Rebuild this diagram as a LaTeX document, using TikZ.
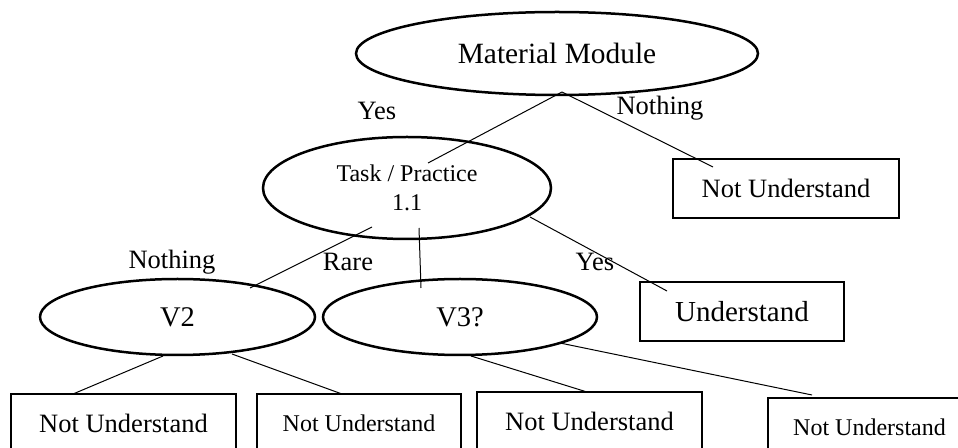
\documentclass[tikz,border=0pt]{standalone}
\usepackage{fontspec}
\setmainfont{Liberation Serif}
\usetikzlibrary{shapes.geometric, positioning, calc}

\begin{document}
\begin{tikzpicture}[
      x=0.5pt, y=-0.5pt,
      font=\fontsize{13.25}{15}\selectfont,
      ovalbox/.style={
          draw,
          ellipse,
          line width=1.25pt,
          inner sep=0pt,
          align=center
      },
      answerbox/.style={
          draw,
          rectangle,
          line width=1.25pt,
          minimum width=112.5pt,
          minimum height=29.5pt,
          inner sep=0pt
      },
      link/.style={line width=0.5pt},
      choice/.style={inner sep=0pt}
  ]
      \useasboundingbox (0,0) rectangle (958,448);

      % --- Questions ---
      \node[ovalbox, minimum width=201pt, minimum height=41.5pt, font=\fontsize{14.7}{16}\selectfont] (module) at (557,53.5) {Material Module};
      \node[ovalbox, minimum width=144pt, minimum height=51pt, font=\fontsize{12}{14.5}\selectfont] (task) at (407,188) {Task / Practice\\1.1};
      \node[ovalbox, minimum width=137.5pt, minimum height=38pt, font=\fontsize{14.25}{16}\selectfont] (vtwo) at (177.5,317) {V2};
      \node[ovalbox, minimum width=137pt, minimum height=38pt, font=\fontsize{14.25}{16}\selectfont] (vthree) at (460,317) {V3?};

      % --- Results ---
      \node[answerbox, minimum width=113pt] (notund) at (786,188.5) {Not Understand};
      \node[answerbox, minimum width=102pt, font=\fontsize{14.5}{16}\selectfont] (und) at (742,311.5) {Understand};
      \node[answerbox] (notunda) at (123.5,423.5) {Not Understand};
      \node[answerbox, minimum width=102pt, font=\fontsize{12}{14}\selectfont] (notundb) at (359,423.5) {Not Understand};
      \node[answerbox] (notundc) at (589.5,421.5) {Not Understand};
      \node[answerbox, minimum width=101.5pt, font=\fontsize{12}{14}\selectfont] (notundd) at (869.5,427.5) {Not Understand};

      % --- Answers ---
      \node[choice] (yesa) at (377,111) {Yes};
      \node[choice] (nothinga) at (660,108) {Nothing};
      \node[choice] (nothingb) at (172,262) {Nothing};
      \node[choice] (rare) at (348,262) {Rare};
      \node[choice] (yesb) at (595,262) {Yes};

      % --- Connections ---
      \draw[link] ($(module.center)+(5,38.5)$) -- ($(task.center)+(21,-25)$);
      \draw[link] ($(module.center)+(5,38.5)$) -- ($(notund.center)+(-73,-21.5)$);

      \draw[link] ($(task.center)+(-35,39)$) -- ($(vtwo.center)+(72.5,-29)$);
      \draw[link] ($(task.center)+(12,40)$) -- ($(vthree.center)+(-39,-29)$);
      \draw[link] ($(task.center)+(123,29)$) -- ($(und.center)+(-75,-20.5)$);

      \draw[link] ($(vtwo.center)+(-14.5,39)$) -- ($(notunda.center)+(-50.5,-29.5)$);
      \draw[link] ($(vtwo.center)+(54.5,37)$) -- ($(notundb.center)+(-17,-29.5)$);
      \draw[link] ($(vthree.center)+(11,39)$) -- ($(notundc.center)+(-2.5,-29.5)$);
      \draw[link] ($(vthree.center)+(100,26)$) -- ($(notundd.center)+(-57.5,-32.5)$);

  \end{tikzpicture}
\end{document}
